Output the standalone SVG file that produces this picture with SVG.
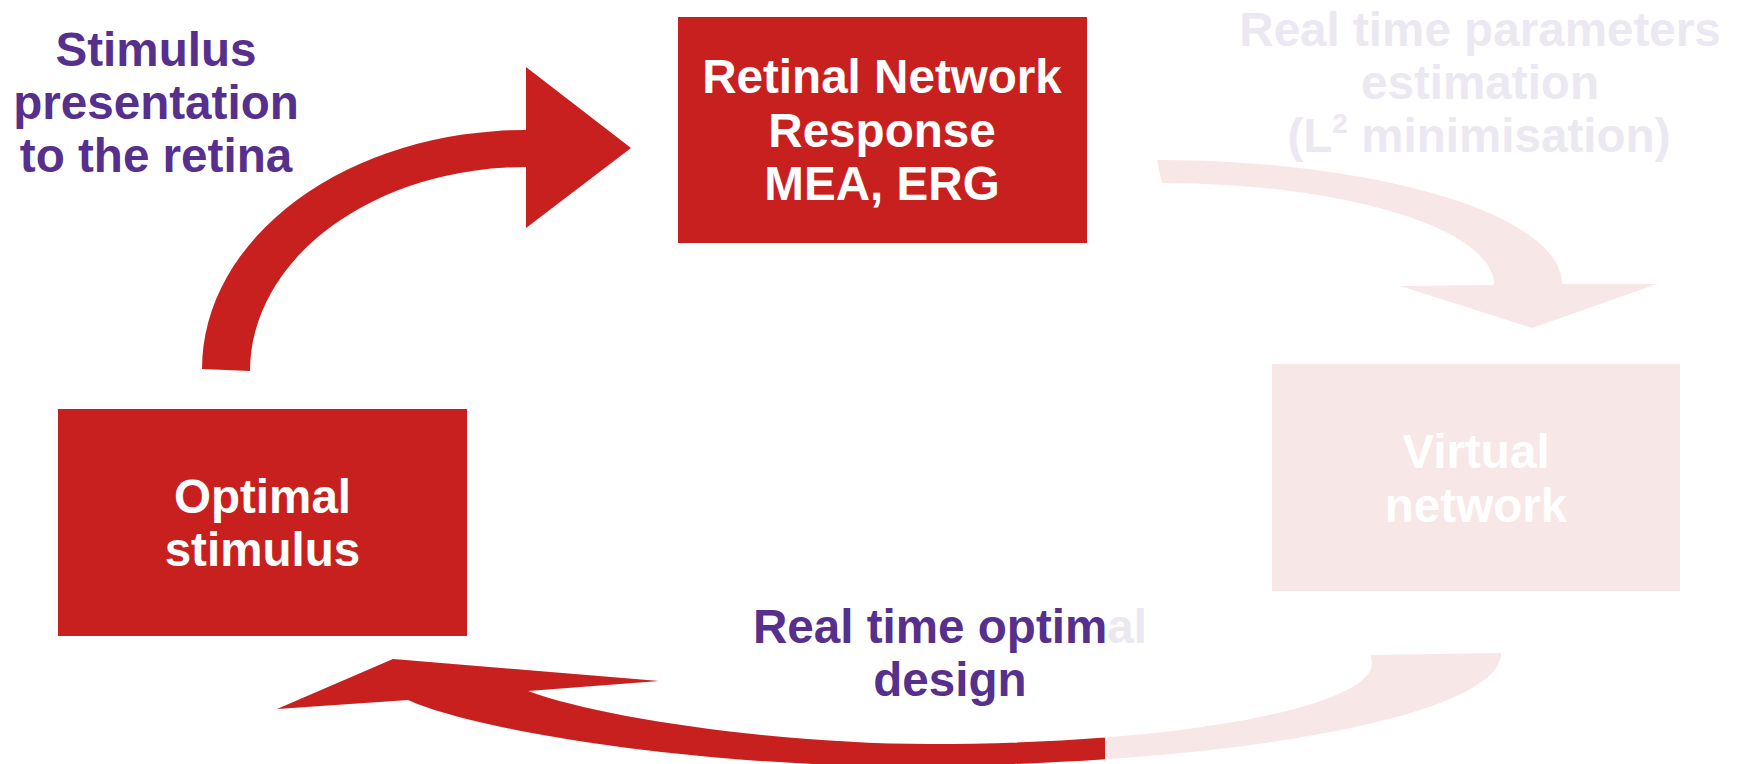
<svg xmlns="http://www.w3.org/2000/svg" width="1741" height="764" viewBox="0 0 1741 764">
<style>
  .t { font-family: "Liberation Sans", Arial, sans-serif; font-weight: bold; font-size: 47.6px; text-anchor: middle; }
  .white { fill: #FFFFFF; }
  .purple { fill: #56308C; }
  .lav { fill: #ECE8F2; }
  .red { fill: #C8201F; }
  .pale { fill: #F8E7E7; }
</style>
<defs>
  <clipPath id="leftPart"><rect x="0" y="0" width="1105" height="764"/></clipPath>
</defs>
<rect x="0" y="0" width="1741" height="764" fill="#FFFFFF"/>

<g id="connectors">
  <path id="arrow-present" class="red" d="M202,369 A324,239 0 0 1 526,130 L526,67 L631,148 L526,228 L526,167 A276,204 0 0 0 250,371 Z"/>
  <path id="arrow-estimation" class="pale" d="M1157,160 A405,124 0 0 1 1562,284 L1657,284 L1532,328 L1400,286 L1494,285 A332,102 0 0 0 1162,183 Z"/>
  <g id="arrow-design">
    <path id="arrow-design-shape" class="pale" d="M1501,653 C1502,716 1232,766 900,766 C700,766 480,732 408,700 L277,709 L393,659 L659,681 L528,691 C600,718 780,744 930,744 C1174,744 1372,708 1372,663 L1371,655 Z"/>
    <path class="red" clip-path="url(#leftPart)" d="M1501,653 C1502,716 1232,766 900,766 C700,766 480,732 408,700 L277,709 L393,659 L659,681 L528,691 C600,718 780,744 930,744 C1174,744 1372,708 1372,663 L1371,655 Z"/>
  </g>
</g>

<g id="node-retina">
  <rect class="red" x="678" y="17" width="409" height="226"/>
  <text class="t white" x="882" y="93">Retinal Network</text>
  <text class="t white" x="882" y="147">Response</text>
  <text class="t white" x="882" y="200">MEA, ERG</text>
</g>

<g id="node-optimal">
  <rect class="red" x="58" y="409" width="409" height="227"/>
  <text class="t white" x="262.5" y="513">Optimal</text>
  <text class="t white" x="262.5" y="566">stimulus</text>
</g>

<g id="node-virtual">
  <rect class="pale" x="1272" y="364" width="408" height="227"/>
  <text class="t white" x="1476" y="468">Virtual</text>
  <text class="t white" x="1476" y="522">network</text>
</g>

<g id="label-stimulus">
  <text class="t purple" x="156" y="66">Stimulus</text>
  <text class="t purple" x="156" y="119">presentation</text>
  <text class="t purple" x="156" y="172">to the retina</text>
</g>

<g id="label-estimation">
  <text class="t lav" x="1480" y="46">Real time parameters</text>
  <text class="t lav" x="1480" y="99">estimation</text>
  <text class="t lav" x="1479" y="152">(L<tspan font-size="28" dy="-19">2</tspan><tspan dy="19"> minimisation)</tspan></text>
</g>

<g id="label-design">
  <text class="t purple" x="950" y="643">Real time optim<tspan class="lav">al</tspan></text>
  <text class="t purple" x="950" y="696">design</text>
</g>
</svg>
